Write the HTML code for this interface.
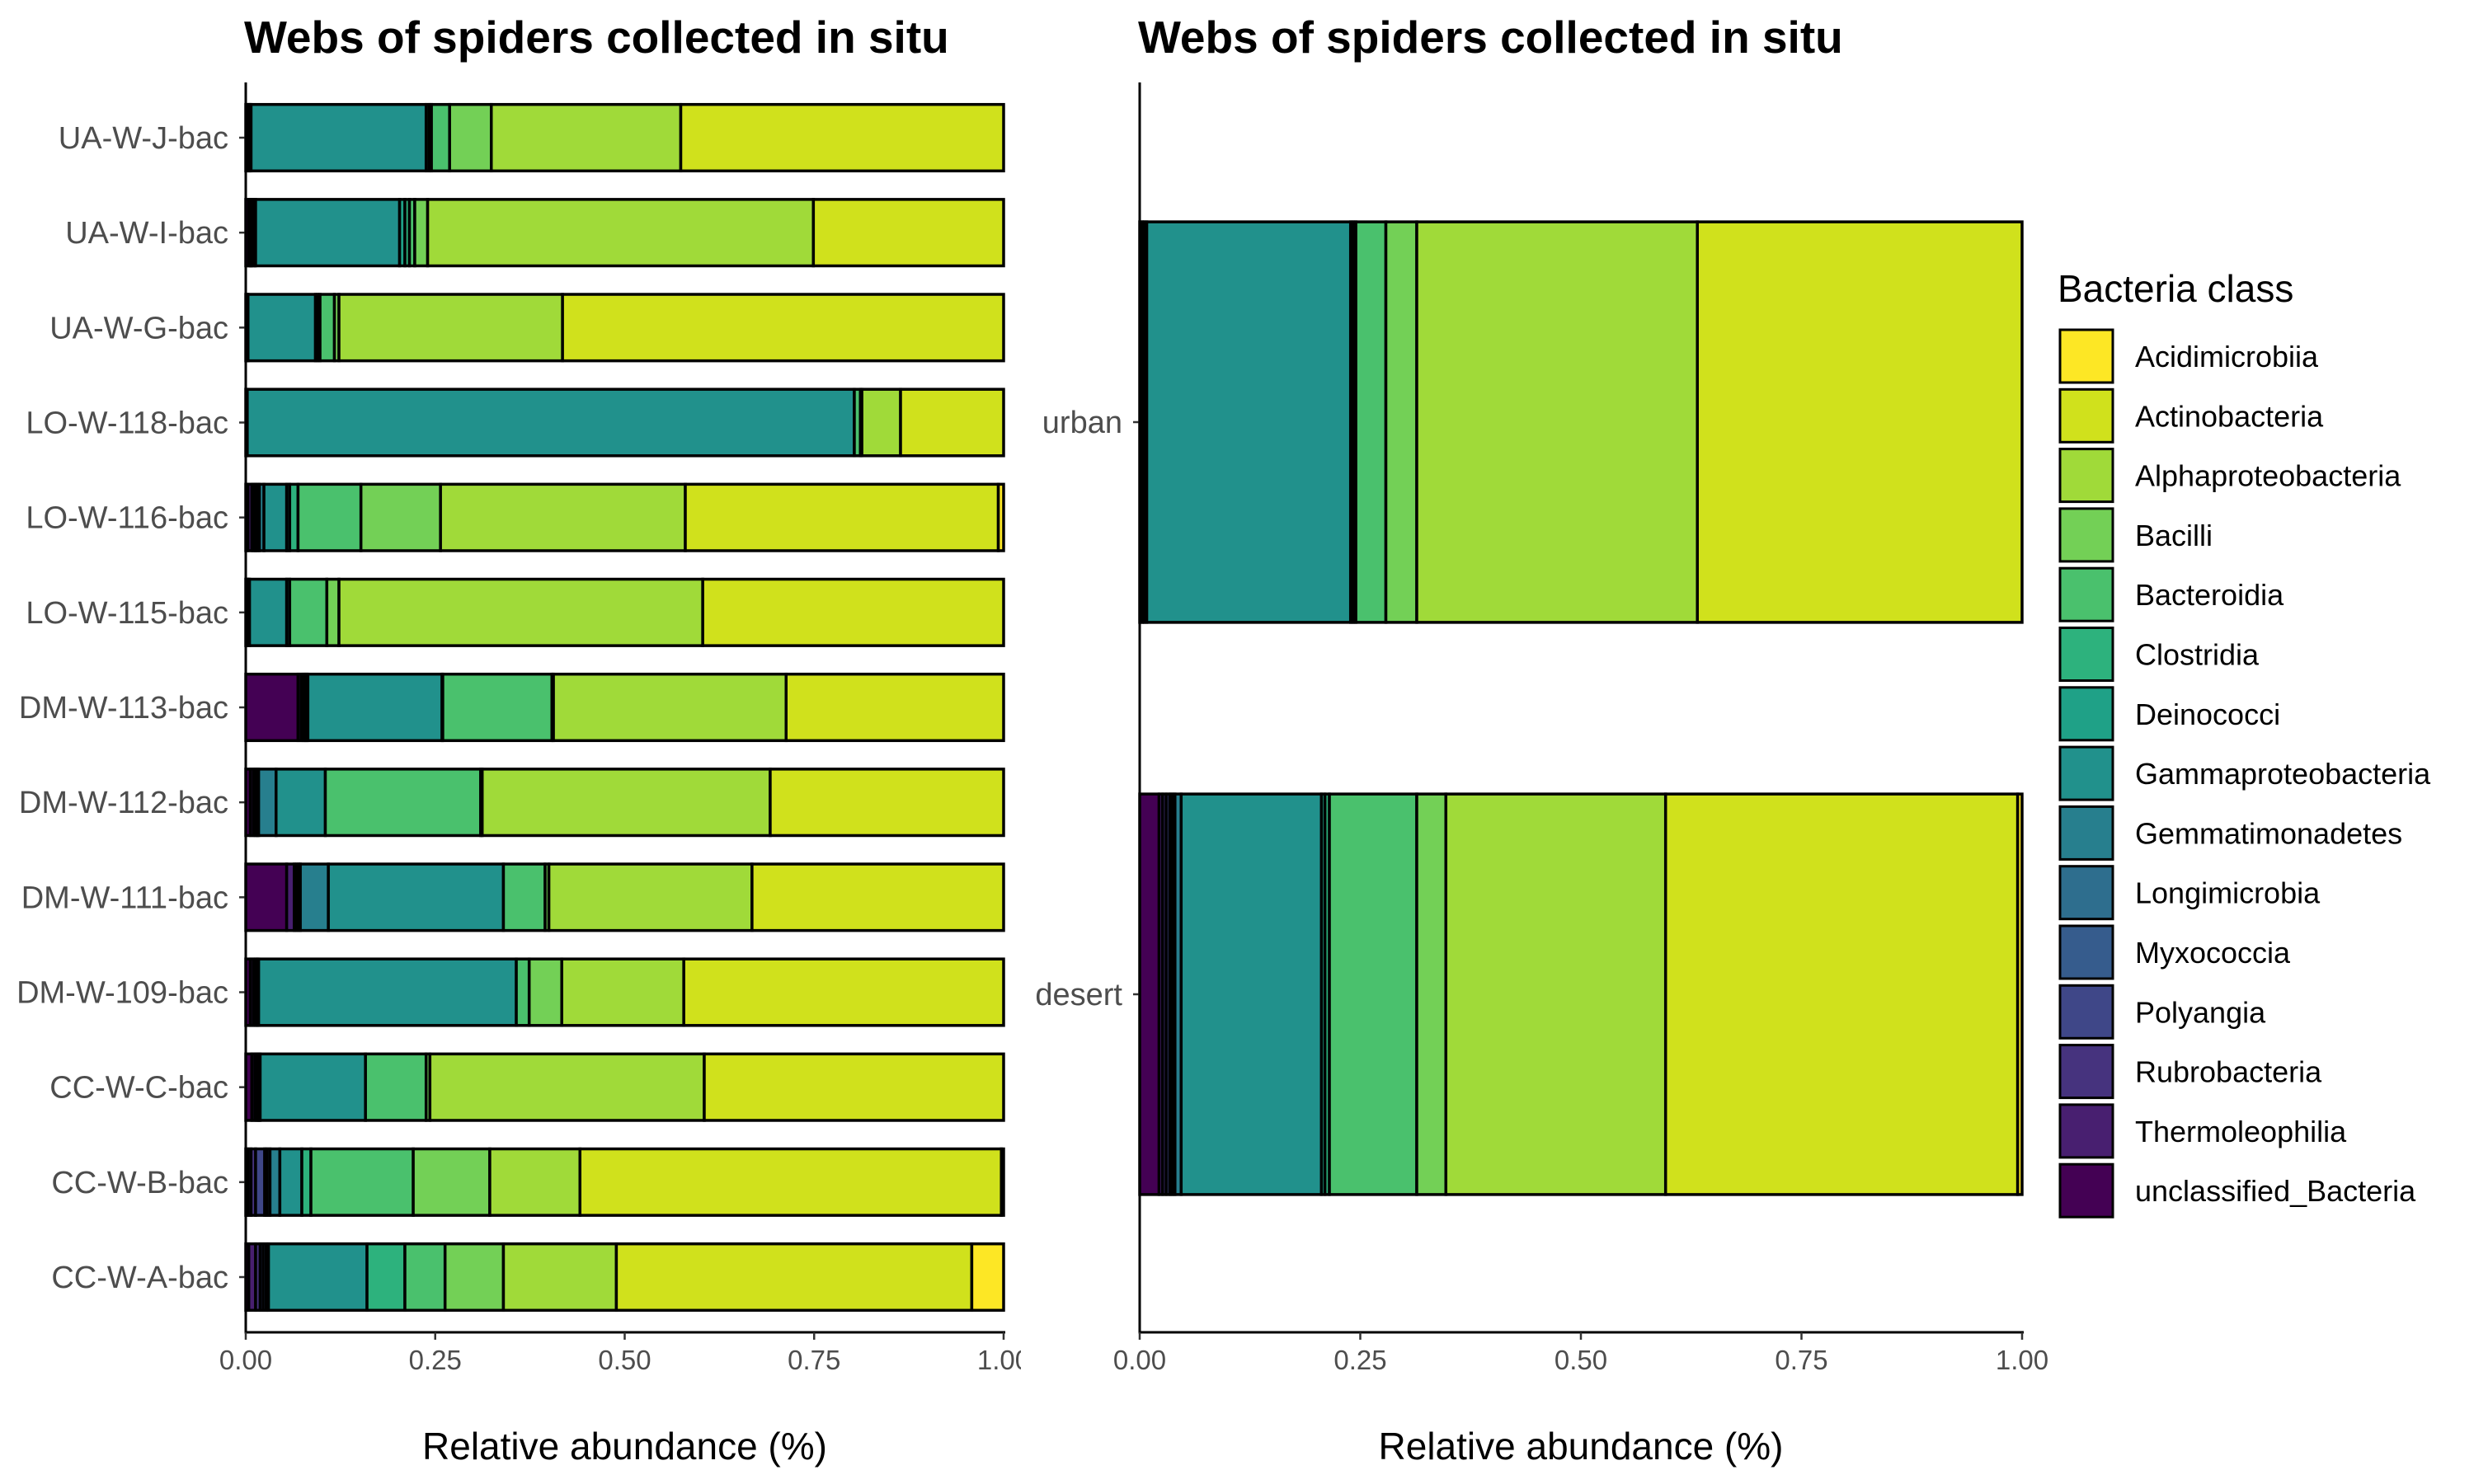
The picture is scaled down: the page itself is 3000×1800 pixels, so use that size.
<!DOCTYPE html>
<html><head><meta charset="utf-8"><style>
html,body{margin:0;padding:0;background:#fff;}
svg{display:block;font-family:"Liberation Sans",Arial,sans-serif;}
</style></head><body>
<svg id="chart" width="3000" height="1800" viewBox="0 0 3000 1800" xmlns="http://www.w3.org/2000/svg">
<defs><clipPath id="clipL"><rect x="0" y="0" width="1238" height="1800"/></clipPath></defs>
<g id="left" clip-path="url(#clipL)"></g>
<g id="right"></g>
<g id="legend"></g>
</svg>
<script>
const classes = ["unclassified_Bacteria","Thermoleophilia","Rubrobacteria","Polyangia","Myxococcia","Longimicrobia","Gemmatimonadetes","Gammaproteobacteria","Deinococci","Clostridia","Bacteroidia","Bacilli","Alphaproteobacteria","Actinobacteria","Acidimicrobiia"];
const classColors = ["#440154","#481F70","#46337E","#3F4788","#365C8D","#2E6E8E","#277F8E","#21918C","#1FA187","#2DB27D","#4AC16D","#73D056","#A0DA39","#D0E11C","#FDE725"];
const leftSamples = ["UA-W-J-bac","UA-W-I-bac","UA-W-G-bac","LO-W-118-bac","LO-W-116-bac","LO-W-115-bac","DM-W-113-bac","DM-W-112-bac","DM-W-111-bac","DM-W-109-bac","CC-W-C-bac","CC-W-B-bac","CC-W-A-bac"];
const uaJ = [.002,.002,0,0,0,.001,.002,.231,.004,.003,.024,.055,.250,.426,0];
const uaI = [.004,.002,.001,0,.001,.003,.002,.190,.007,.006,.007,.017,.509,.251,0];
const uaG = [.002,0,0,0,0,0,.001,.089,.003,.003,.019,.006,.295,.582,0];
const lo118 = [.002,0,0,0,0,0,0,.801,0,0,.008,.002,.051,.136,0];
const lo116 = [.003,.005,.003,.002,.002,.003,.006,.030,.004,.011,.083,.105,.323,.413,.007];
const lo115 = [.002,0,0,0,0,.001,.002,.049,.004,0,.049,.016,.480,.397,0];
const dm113 = [.069,.004,.003,.002,.002,0,.002,.177,.001,0,.144,.002,.307,.287,0];
const dm112 = [.006,.004,.003,.002,0,.002,.023,.065,0,0,.205,.002,.380,.308,0];
const dm111 = [.054,.010,.003,.003,0,.002,.037,.231,0,0,.055,.005,.268,.332,0];
const dm109 = [.006,.004,.003,.002,0,0,.002,.340,0,0,.017,.043,.161,.422,0];
const ccC = [.008,.004,.003,.002,0,.002,0,.139,0,0,.080,.005,.362,.395,0];
const ccB = [.003,.004,.006,.012,.003,.004,.013,.029,0,.012,.135,.101,.119,.556,.003];
const ccA = [.004,.009,.006,.004,.004,.003,0,.130,0,.050,.053,.077,.149,.469,.042];
const rightSamples = ["urban","desert"];
const urban = [.003,.002,0,0,0,0,.003,.231,.003,.003,.034,.035,.318,.368,0];
const desert = [.022,.004,.004,.004,.003,.003,.007,.159,.004,.005,.099,.033,.249,.399,.005];
const xTicks = [0,0.25,0.5,0.75,1];
const xTickLabels = ["0.00","0.25","0.50","0.75","1.00"];
const leftValues = [uaJ,uaI,uaG,lo118,lo116,lo115,dm113,dm112,dm111,dm109,ccC,ccB,ccA];
const rightValues = [urban,desert];

const NS="http://www.w3.org/2000/svg";
function mk(tag,attrs,parent){const e=document.createElementNS(NS,tag);for(const k in attrs)e.setAttribute(k,attrs[k]);parent.appendChild(e);return e;}

function panel(g,cfg,samples,values,nameBase){
  const x=v=>cfg.x0+v*(cfg.x1-cfg.x0);
  const step=(cfg.yLast-cfg.yFirst)/Math.max(1,samples.length-1);
  const y=i=>cfg.yFirst+i*step;
  const bh=step*0.7;
  const t=mk('text',{x:cfg.axisX-2,y:64,'font-size':55,'font-weight':'bold',fill:'#000'},g);
  t.textContent="Webs of spiders collected in situ";
  
  
  samples.forEach((s,i)=>{
    let acc=0;
    values[i].forEach((v,c)=>{
      if(v<=0)return;
      const r=mk('rect',{x:x(acc),y:y(i)-bh/2,width:x(acc+v)-x(acc),height:bh,fill:classColors[c],stroke:'#000','stroke-width':3.5},g);
      
      
      acc+=v;
    });
    const tk=mk('line',{x1:cfg.axisX-8,x2:cfg.axisX,y1:y(i),y2:y(i),stroke:'#333','stroke-width':2.5},g);
    
    
    const lb=mk('text',{x:cfg.axisX-21,y:y(i)+13,'font-size':38,fill:'#4d4d4d','text-anchor':'end'},g);
    lb.textContent=s;
    
    
  });
  const ya=mk('line',{x1:cfg.axisX,x2:cfg.axisX,y1:100,y2:1617,stroke:'#000','stroke-width':3},g);
  
  
  const xa=mk('line',{x1:cfg.axisX-1.5,x2:cfg.x1+2,y1:1616,y2:1616,stroke:'#000','stroke-width':3},g);
  
  
  xTicks.forEach((v,k)=>{
    const tk=mk('line',{x1:x(v),x2:x(v),y1:1616,y2:1625,stroke:'#333','stroke-width':2.5},g);
    
    
    const lb=mk('text',{x:x(v),y:1661,'font-size':33,fill:'#4d4d4d','text-anchor':'middle'},g);
    lb.textContent=xTickLabels[k];
    
    
  });
  const xt=mk('text',{x:(cfg.x0+cfg.x1)/2,y:1770,'font-size':46,fill:'#000','text-anchor':'middle'},g);
  xt.textContent="Relative abundance (%)";
  
  
}
panel(document.getElementById('left'),{x0:298,x1:1217,axisX:298,yFirst:167,yLast:1549},leftSamples,leftValues,'left');
panel(document.getElementById('right'),{x0:1382,x1:2452,axisX:1382,yFirst:512,yLast:1206},rightSamples,rightValues,'right');

const lg=document.getElementById('legend');
const lt=mk('text',{x:2495,y:366,'font-size':46,fill:'#000'},lg);
lt.textContent="Bacteria class";


for(let k=0;k<classes.length;k++){
  const c=classes.length-1-k;
  const yy=400+k*72.3;
  const r=mk('rect',{x:2498,y:yy,width:64,height:64,fill:classColors[c],stroke:'#000','stroke-width':3},lg);
  
  
  const tx=mk('text',{x:2589,y:yy+45,'font-size':36,fill:'#000'},lg);
  tx.textContent=classes[c];
  
  
}
</script>
</body></html>
